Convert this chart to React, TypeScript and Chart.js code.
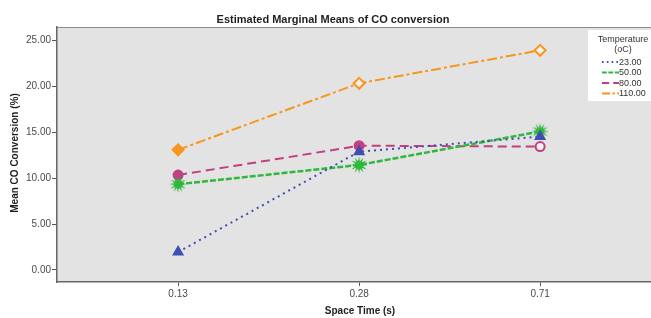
import React, { useEffect, useRef } from "react";
import { Chart, registerables } from "chart.js";

Chart.register(...registerables);

const categories = ["0.13", "0.28", "0.71"];
const seriesNames = ["23.00", "50.00", "80.00", "110.00"];
const s23 = [1.95, 12.9, 14.55];
const s50 = [9.35, 11.45, 15.1];
const s80 = [10.35, 13.55, 13.45];
const s110 = [13.1, 20.35, 23.95];
const yTicks = [0, 5, 10, 15, 20, 25];

const colors = ["#3e4fb4", "#2fb83c", "#c23f80", "#f7961f"];
const dashes = [[2, 4], [6, 2], [9, 5], [10, 3, 3, 3]];
const FONT = "'Liberation Sans', Arial, sans-serif";
const CW = 661;

function makeBurst(color: string) {
  const c = document.createElement("canvas");
  const s = 18;
  c.width = s;
  c.height = s;
  const ctx = c.getContext("2d")!;
  const cx = s / 2, cy = s / 2;
  const n = 12;
  ctx.beginPath();
  for (let i = 0; i < n * 2; i++) {
    const r = i % 2 === 0 ? 8.8 : 3.8;
    const a = (Math.PI * i) / n - Math.PI / 2;
    const x = cx + r * Math.cos(a);
    const y = cy + r * Math.sin(a);
    if (i === 0) ctx.moveTo(x, y);
    else ctx.lineTo(x, y);
  }
  ctx.closePath();
  ctx.fillStyle = color;
  ctx.fill();
  return c;
}

export default function App() {
  const ref = useRef<HTMLCanvasElement>(null);
  useEffect(() => {
    const burst = makeBurst(colors[1]);
    const toPts = (arr: number[]) => arr.map((v, i) => ({ x: i, y: v }));
    const deco = {
      id: "deco",
      beforeDraw(chart: any) {
        const { ctx, chartArea: a } = chart;
        ctx.save();
        ctx.fillStyle = "#e3e3e3";
        ctx.fillRect(a.left, a.top, a.right - a.left + 12, a.bottom - a.top);
        ctx.restore();
      },
      afterDraw(chart: any) {
        const { ctx, chartArea: a } = chart;
        ctx.save();
        ctx.strokeStyle = "#8a8a8a";
        ctx.lineWidth = 1;
        ctx.beginPath();
        ctx.moveTo(a.left, a.top + 0.5);
        ctx.lineTo(a.right + 12, a.top + 0.5);
        ctx.stroke();
        ctx.fillStyle = "#1e1e1e";
        ctx.font = `bold 11px ${FONT}`;
        ctx.textAlign = "center";
        ctx.textBaseline = "middle";
        ctx.fillText("Estimated Marginal Means of CO conversion", 333, 20);
        ctx.font = `bold 10px ${FONT}`;
        ctx.fillText("Space Time (s)", 360, 311);
        ctx.save();
        ctx.translate(15, 153);
        ctx.rotate(-Math.PI / 2);
        ctx.fillText("Mean CO Conversion (%)", 0, 0);
        ctx.restore();
        const lx = 588, ly = 30, lw = 70, lh = 71;
        ctx.fillStyle = "#ffffff";
        ctx.fillRect(lx, ly, lw, lh);
        ctx.fillStyle = "#333";
        ctx.font = `9px ${FONT}`;
        ctx.textAlign = "center";
        ctx.fillText("Temperature", 623, 40);
        ctx.fillText("(oC)", 623, 50);
        ctx.textAlign = "left";
        seriesNames.forEach((name, i) => {
          const y = 62 + i * 10.5;
          ctx.strokeStyle = colors[i];
          ctx.lineWidth = 2;
          ctx.setLineDash(dashes[i].map((d) => d * 0.8));
          ctx.beginPath();
          ctx.moveTo(602, y);
          ctx.lineTo(619, y);
          ctx.stroke();
          ctx.setLineDash([]);
          ctx.fillStyle = "#333";
          ctx.fillText(name, 619, y + 0.5);
        });
        ctx.restore();
      },
    };

    const series = [s23, s50, s80, s110];
    const styles: any[] = ["triangle", burst, "circle", "rectRot"];
    const radii = [5, 9, 4.5, 5.5];
    const bgs = [
      [colors[0], colors[0], colors[0]],
      [colors[1], colors[1], colors[1]],
      [colors[2], colors[2], "#f2f2f2"],
      [colors[3], "#f5f0e8", "#f5f0e8"],
    ];
    const chart = new Chart(ref.current!, {
      type: "line",
      data: {
        datasets: series.map((s, i) => ({
          label: seriesNames[i],
          data: toPts(s),
          borderColor: colors[i],
          borderWidth: i === 1 ? 2.5 : 2,
          borderDash: dashes[i],
          pointStyle: styles[i],
          pointRadius: radii[i],
          pointBackgroundColor: bgs[i],
          pointBorderColor: colors[i],
          pointBorderWidth: 2,
          fill: false,
          tension: 0,
        })),
      },
      options: {
        animation: false,
        responsive: false,
        maintainAspectRatio: false,
        events: [],
        layout: { padding: { top: 27, right: 0, bottom: 0, left: 0 } },
        plugins: {
          legend: { display: false },
          title: { display: false },
          tooltip: { enabled: false },
        },
        scales: {
          x: {
            type: "linear",
            min: -0.669,
            max: 2.607,
            afterBuildTicks: (scale: any) => {
              scale.ticks = categories.map((_, i) => ({ value: i }));
            },
            afterFit: (scale: any) => {
              scale.height = 36;
            },
            ticks: {
              callback: (v: any) => categories[Math.round(Number(v))] ?? "",
              color: "#4a4a4a",
              font: { family: FONT, size: 10 },
              padding: 2,
              maxRotation: 0,
            },
            grid: {
              drawOnChartArea: false,
              drawTicks: true,
              tickLength: 4,
              tickColor: "#555",
            },
            border: { display: true, color: "#666", width: 1.5 },
          },
          y: {
            type: "linear",
            min: -1.31,
            max: 26.49,
            afterBuildTicks: (scale: any) => {
              scale.ticks = yTicks.map((v) => ({ value: v }));
            },
            afterFit: (scale: any) => {
              scale.width = 57;
            },
            ticks: {
              callback: (v: any) => Number(v).toFixed(2),
              color: "#4a4a4a",
              font: { family: FONT, size: 10 },
              padding: 1,
            },
            grid: {
              drawOnChartArea: false,
              drawTicks: true,
              tickLength: 5,
              tickColor: "#555",
            },
            border: { display: true, color: "#666", width: 1.5 },
          },
        },
      },
      plugins: [deco],
    } as any);
    return () => chart.destroy();
  }, []);
  return (
    <div style={{ position: "absolute", left: 0, top: 0, width: 651, height: 318, background: "#fff", overflow: "hidden" }}>
      <canvas ref={ref} width={CW} height={318} style={{ width: CW, height: 318, display: "block" }} />
    </div>
  );
}
